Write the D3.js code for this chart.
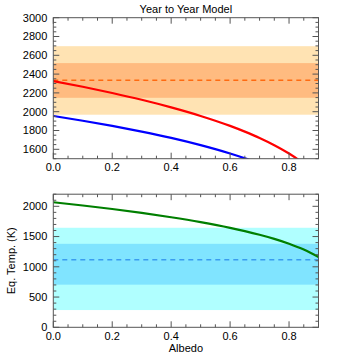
<!DOCTYPE html>
<html>
<head>
<meta charset="utf-8">
<script src="https://cdn.jsdelivr.net/npm/d3@7"></script>
<style>
  body { margin: 0; background: #fff; }
  svg { display: block; font-family: "Liberation Sans", Arial, sans-serif; }
  .tick-label { font-size: 11px; fill: #000; }
</style>
</head>
<body>
<div id="chart"></div>
<script>
// Albedo samples shared by all curves
const albedo = [0, 0.1, 0.2, 0.3, 0.4, 0.5, 0.6, 0.65, 0.7, 0.75, 0.8, 0.85, 0.9];

// Top panel: two model curves (K)
const redTemp  = [2325, 2265, 2199, 2127, 2046, 1955, 1849, 1788, 1721, 1644, 1555, 1447, 1307];
const blueTemp = [1955, 1904, 1849, 1788, 1721, 1644, 1555, 1504, 1447, 1382, 1307, 1217, 1099];
// Top panel: observed band (mean, inner range, outer range)
const topMean  = 2334;
const topInner = [2148, 2517];
const topOuter = [1968, 2697];

// Bottom panel: equilibrium temperature curve
const greenTemp = [2067, 2013, 1955, 1891, 1819, 1738, 1644, 1590, 1530, 1462, 1382, 1286, 1162];
const botMean  = 1115;
const botInner = [705, 1380];
const botOuter = [285, 1645];

const xTicksMajor = [0, 0.2, 0.4, 0.6, 0.8];
const topYTicks = [1600, 1800, 2000, 2200, 2400, 2600, 2800, 3000];
const botYTicks = [0, 500, 1000, 1500, 2000];

const W = 354, H = 354;
const svg = d3.select("#chart").append("svg").attr("width", W).attr("height", H);

const left = 53.3, right = 318.5;

function panel(opts) {
  const g = svg.append("g");
  const x = d3.scaleLinear().domain([0, 0.9]).range([left, right]);
  const y = d3.scaleLinear().domain(opts.yDomain).range([opts.bottom, opts.top]);

  const clipId = "clip-" + opts.id;
  svg.append("clipPath").attr("id", clipId)
    .append("rect")
    .attr("x", left).attr("y", opts.top)
    .attr("width", right - left).attr("height", opts.bottom - opts.top);

  const plot = g.append("g").attr("clip-path", `url(#${clipId})`);

  // outer and inner bands
  plot.append("rect")
    .attr("x", left).attr("width", right - left)
    .attr("y", y(opts.outer[1])).attr("height", y(opts.outer[0]) - y(opts.outer[1]))
    .attr("fill", opts.outerColor);
  plot.append("rect")
    .attr("x", left).attr("width", right - left)
    .attr("y", y(opts.inner[1])).attr("height", y(opts.inner[0]) - y(opts.inner[1]))
    .attr("fill", opts.innerColor);
  plot.append("line")
    .attr("x1", left).attr("x2", right)
    .attr("y1", y(opts.mean)).attr("y2", y(opts.mean))
    .attr("stroke", opts.meanColor).attr("stroke-width", 1.5)
    .attr("stroke-dasharray", "5,4");

  const line = d3.line()
    .x((d, i) => x(albedo[i]))
    .y(d => y(d))
    .curve(d3.curveMonotoneX);

  opts.series.forEach(s => {
    plot.append("path")
      .datum(s.values)
      .attr("d", line)
      .attr("fill", "none")
      .attr("stroke", s.color)
      .attr("stroke-width", 2.2);
  });

  // frame
  const axisColor = "#555";
  g.append("rect")
    .attr("x", left).attr("y", opts.top)
    .attr("width", right - left).attr("height", opts.bottom - opts.top)
    .attr("fill", "none").attr("stroke", axisColor).attr("stroke-width", 1);

  const majLen = 6, minLen = 3;
  // x ticks (bottom and top, inward)
  const xMinor = d3.range(0, 0.9001, 0.05);
  xMinor.forEach(v => {
    const isMajor = Math.abs(v / 0.2 - Math.round(v / 0.2)) < 1e-6;
    const len = isMajor ? majLen : minLen;
    const px = x(v);
    g.append("line").attr("x1", px).attr("x2", px)
      .attr("y1", opts.bottom).attr("y2", opts.bottom - len)
      .attr("stroke", axisColor);
    g.append("line").attr("x1", px).attr("x2", px)
      .attr("y1", opts.top).attr("y2", opts.top + len)
      .attr("stroke", axisColor);
  });
  xTicksMajor.forEach(v => {
    g.append("text").attr("class", "tick-label")
      .attr("x", x(v)).attr("y", opts.bottom + 12.5)
      .attr("text-anchor", "middle")
      .text(v.toFixed(1));
  });

  // y ticks (left and right, inward)
  const yMinor = d3.range(opts.yDomain[0], opts.yDomain[1] + 0.1, opts.minorStep);
  yMinor.forEach(v => {
    const isMajor = v % opts.majorStep === 0;
    const len = isMajor ? majLen : minLen;
    const py = y(v);
    g.append("line").attr("x1", left).attr("x2", left + len)
      .attr("y1", py).attr("y2", py).attr("stroke", axisColor);
    g.append("line").attr("x1", right).attr("x2", right - len)
      .attr("y1", py).attr("y2", py).attr("stroke", axisColor);
  });
  opts.yTicks.forEach(v => {
    g.append("text").attr("class", "tick-label")
      .attr("x", left - 6).attr("y", y(v))
      .attr("dy", "0.35em")
      .attr("text-anchor", "end")
      .text(v);
  });

  return { x, y };
}

panel({
  id: "top",
  top: 17.7, bottom: 158.7,
  yDomain: [1500, 3000], minorStep: 50, majorStep: 200,
  yTicks: topYTicks,
  outer: topOuter, inner: topInner, mean: topMean,
  outerColor: "#ffe3b3", innerColor: "#ffbb80", meanColor: "#ff6a10",
  series: [
    { values: redTemp, color: "#ff0000" },
    { values: blueTemp, color: "#0000ff" }
  ]
});

panel({
  id: "bot",
  top: 194.2, bottom: 327.3,
  yDomain: [0, 2200], minorStep: 100, majorStep: 500,
  yTicks: botYTicks,
  outer: botOuter, inner: botInner, mean: botMean,
  outerColor: "#b0ffff", innerColor: "#80e4ff", meanColor: "#3a9cf0",
  series: [
    { values: greenTemp, color: "#007f00" }
  ]
});

// titles
svg.append("text")
  .attr("x", (left + right) / 2).attr("y", 13)
  .attr("text-anchor", "middle")
  .style("font-size", "11px")
  .text("Year to Year Model");

svg.append("text")
  .attr("x", (left + right) / 2).attr("y", 352)
  .attr("text-anchor", "middle")
  .style("font-size", "11px")
  .text("Albedo");

svg.append("text")
  .attr("transform", `translate(15, ${(194.2 + 327.3) / 2}) rotate(-90)`)
  .attr("text-anchor", "middle")
  .style("font-size", "11px")
  .text("Eq. Temp. (K)");
</script>
</body>
</html>
